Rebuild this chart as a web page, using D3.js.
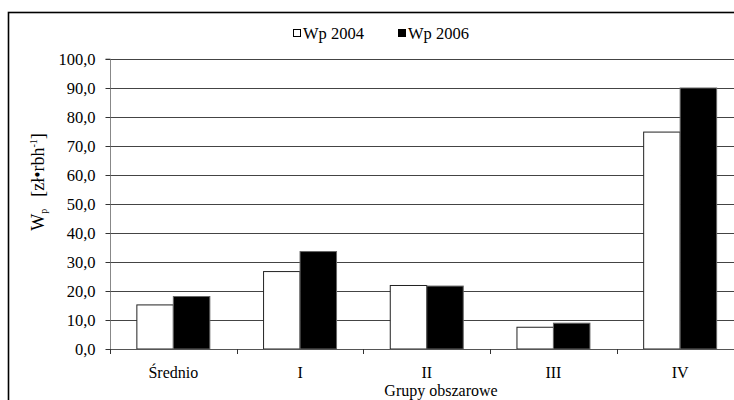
<!DOCTYPE html>
<html>
<head>
<meta charset="utf-8">
<script src="https://cdn.jsdelivr.net/npm/d3@7"></script>
<style>
  body { margin: 0; background: #fff; }
  svg { display: block; }
  svg text { font-family: "Liberation Serif", "DejaVu Serif", serif; }
</style>
</head>
<body>
<div id="chart"></div>
<script>
// dane
var grupy = ["Średnio", "I", "II", "III", "IV"]
var serie = ["Wp 2004", "Wp 2006"]
var wp2004 = [15.2, 26.7, 21.9, 7.5, 74.8]
var wp2006 = [18.1, 33.6, 21.7, 8.9, 90.0]
var yTicks = [0, 10, 20, 30, 40, 50, 60, 70, 80, 90, 100]

var width = 734, height = 400
var margin = {top: 59, left: 110, bottom: 51}
var plotRight = 743.5

var svg = d3.select("#chart").append("svg")
  .attr("width", width)
  .attr("height", height)

// ramka wykresu
svg.append("rect")
  .attr("x", 8.5).attr("y", 12.5)
  .attr("width", 800).attr("height", 500)
  .attr("fill", "none")
  .attr("stroke", "#000")
  .attr("stroke-width", 1.6)

var x0 = d3.scaleBand()
  .domain(grupy)
  .range([margin.left, plotRight])

var x1 = d3.scaleBand()
  .domain(serie)
  .range([x0.bandwidth() * 0.212, x0.bandwidth() * 0.788])

var y = d3.scaleLinear()
  .domain([0, 100])
  .range([height - margin.bottom, margin.top])

// linie siatki
svg.append("g")
  .selectAll("line")
  .data(yTicks.slice(1))
  .enter()
  .append("line")
  .attr("x1", margin.left)
  .attr("x2", plotRight)
  .attr("y1", function(d){ return Math.round(y(d)) + 0.5 })
  .attr("y2", function(d){ return Math.round(y(d)) + 0.5 })
  .attr("stroke", "#444")
  .attr("stroke-width", 1)

// slupki
var dane = grupy.map(function(g, i){
  return [{s: serie[0], g: g, v: wp2004[i]}, {s: serie[1], g: g, v: wp2006[i]}]
})
var kolory = {"Wp 2004": "#fff", "Wp 2006": "#000"}

svg.append("g")
  .selectAll("g")
  .data(dane)
  .enter()
  .append("g")
  .attr("transform", function(d){ return "translate(" + x0(d[0].g) + ",0)" })
  .selectAll("rect")
  .data(function(d){ return d })
  .enter()
  .append("rect")
  .attr("x", function(d){ return x1(d.s) })
  .attr("y", function(d){ return y(d.v) })
  .attr("width", x1.bandwidth())
  .attr("height", function(d){ return y(0) - y(d.v) })
  .attr("fill", function(d){ return kolory[d.s] })
  .attr("stroke", function(d){ return d.s == "Wp 2004" ? "#222" : "#666" })
  .attr("stroke-width", 1)

// os Y
var osY = svg.append("g")
  .attr("transform", "translate(" + (margin.left + 0.5) + ",0)")
  .call(d3.axisLeft(y)
    .tickValues(yTicks)
    .tickSize(5)
    .tickPadding(10)
    .tickFormat(function(d){ return d.toFixed(1).replace(".", ",") }))
osY.attr("font-family", null)
osY.select(".domain").attr("stroke", "#888").attr("d", "M-5," + y(100) + "H0V" + (y(0) + 0.5))
osY.selectAll(".tick line").attr("stroke", "#333")
osY.selectAll("text")
  .attr("font-size", 16.5)
  .attr("fill", "#000")

// os X
var granice = grupy.map(function(g){ return x0(g) }).concat([x0.range()[1]])
var osX = svg.append("g")
osX.append("line")
  .attr("x1", margin.left).attr("x2", plotRight)
  .attr("y1", y(0) + 0.5).attr("y2", y(0) + 0.5)
  .attr("stroke", "#555")
osX.selectAll(".tk")
  .data(granice)
  .enter()
  .append("line")
  .attr("class", "tk")
  .attr("x1", function(d){ return Math.round(d) + 0.5 })
  .attr("x2", function(d){ return Math.round(d) + 0.5 })
  .attr("y1", y(0))
  .attr("y2", y(0) + 5)
  .attr("stroke", "#333")
osX.selectAll("text")
  .data(grupy)
  .enter()
  .append("text")
  .attr("x", function(d){ return x0(d) + x0.bandwidth() / 2 })
  .attr("y", 378)
  .attr("text-anchor", "middle")
  .attr("font-size", 16)
  .text(function(d){ return d })

// tytuly osi
svg.append("text")
  .attr("x", 441)
  .attr("y", 396)
  .attr("text-anchor", "middle")
  .attr("font-size", 16)
  .text("Grupy obszarowe")

var tytY = svg.append("text")
  .attr("transform", "translate(44,182) rotate(-90)")
  .attr("text-anchor", "middle")
  .attr("font-size", 18)
tytY.append("tspan").text("W")
tytY.append("tspan").attr("font-size", 10).attr("dy", 3).text("p")
tytY.append("tspan").attr("dy", -3).attr("dx", 12).text("[zł•rbh")
tytY.append("tspan").attr("font-size", 10).attr("dy", -7).text("-1")
tytY.append("tspan").attr("dy", 7).text("]")

// legenda
var leg = svg.append("g")
var legX = [293, 398]
serie.forEach(function(s, i){
  leg.append("rect")
    .attr("x", legX[i] + 0.5).attr("y", 29.5)
    .attr("width", 7).attr("height", 7)
    .attr("fill", kolory[s])
    .attr("stroke", "#000")
  leg.append("text")
    .attr("x", legX[i] + 10)
    .attr("y", 38.5)
    .attr("font-size", 16.5)
    .text(s)
})
</script>
</body>
</html>
